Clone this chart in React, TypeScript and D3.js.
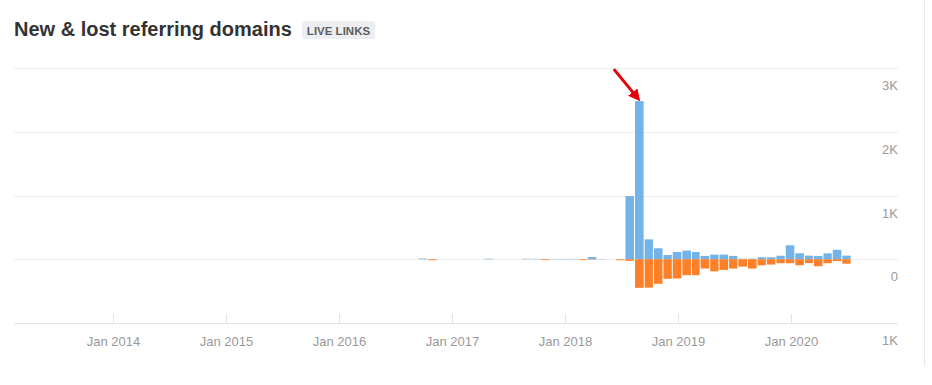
import React from 'react';
import * as d3 from 'd3';

// monthly data, Sep 2016 .. Jun 2020
const months = [
  '2016-09', '2016-10', '2016-11', '2016-12',
  '2017-01', '2017-02', '2017-03', '2017-04', '2017-05', '2017-06',
  '2017-07', '2017-08', '2017-09', '2017-10', '2017-11', '2017-12',
  '2018-01', '2018-02', '2018-03', '2018-04', '2018-05', '2018-06',
  '2018-07', '2018-08', '2018-09', '2018-10', '2018-11', '2018-12',
  '2019-01', '2019-02', '2019-03', '2019-04', '2019-05', '2019-06',
  '2019-07', '2019-08', '2019-09', '2019-10', '2019-11', '2019-12',
  '2020-01', '2020-02', '2020-03', '2020-04', '2020-05', '2020-06',
];
const newDomains = [
  12, 0, 0, 0,
  0, 0, 0, 10, 0, 0,
  0, 8, 8, 0, 6, 6,
  6, 0, 35, 5, 0, 0,
  990, 2480, 312, 172, 67, 114,
  136, 114, 52, 73, 73, 52,
  8, 8, 31, 31, 55, 219,
  94, 57, 52, 92, 148, 57,
];
const lostDomains = [
  0, 15, 0, 0,
  0, 0, 0, 0, 0, 0,
  0, 0, 0, 12, 0, 0,
  0, 12, 5, 0, 0, 15,
  25, 448, 445, 385, 307, 302,
  250, 250, 146, 190, 167, 146,
  115, 146, 94, 83, 62, 62,
  94, 60, 110, 62, 30, 70,
];
const yearTicks = [2014, 2015, 2016, 2017, 2018, 2019, 2020];
const valueTicks = [3000, 2000, 1000, 0, -1000];

const W = 932;
const H = 385;
const left = 14;
const right = 898;
const top = 68;
const bottom = 323;
const font = '"Liberation Sans", Arial, sans-serif';

export default function App() {
  const x = d3.scaleTime()
    .domain([new Date(2014, 0, 1), new Date(2020, 0, 1)])
    .range([113, 791]);
  const y = d3.scaleLinear().domain([-1000, 3000]).range([bottom, top]);

  const barStart = (m: string) => {
    const [yy, mm] = m.split('-').map(Number);
    return x(new Date(yy, mm - 1, 15));
  };
  const barEnd = (m: string) => {
    const [yy, mm] = m.split('-').map(Number);
    return x(new Date(yy, mm, 15));
  };

  const peakIdx = newDomains.indexOf(d3.max(newDomains) as number);
  const tipX = (barStart(months[peakIdx]) + barEnd(months[peakIdx])) / 2;
  const tipY = y(newDomains[peakIdx]);

  return (
    <svg width={W} height={H} style={{ position: 'absolute', left: 0, top: 0, background: '#fff' }}>
      <defs>
        <marker id="head" markerWidth="4" markerHeight="4" refX="2.2" refY="2" orient="auto" markerUnits="strokeWidth">
          <path d="M0,0 L4,2 L0,4 Z" fill="#e8000b" />
        </marker>
      </defs>

      {/* title */}
      <text x={14} y={36} fontFamily={font} fontSize={20} fontWeight="bold" fill="#333">
        New &amp; lost referring domains
      </text>
      <rect x={302} y={21} width={73} height={18} rx={2} fill="#eceef2" />
      <text x={338.5} y={34.5} textAnchor="middle" fontFamily={font} fontSize={11.5} fontWeight="bold" fill="#5e5e5e">
        LIVE LINKS
      </text>

      {/* card border */}
      <line x1={924.5} x2={924.5} y1={0} y2={366} stroke="#e8e8e8" />

      {/* grid */}
      {valueTicks.map(v => (
        <g key={v}>
          <line x1={left} x2={right} y1={Math.round(y(v)) + 0.5} y2={Math.round(y(v)) + 0.5}
            stroke={v === -1000 ? '#e3e3e3' : '#ececec'} />
          <text x={right} y={y(v) + 22} textAnchor="end" fontFamily={font} fontSize={13} fill="#999">
            {v === 0 ? '0' : `${Math.abs(v) / 1000}K`}
          </text>
        </g>
      ))}

      {/* x axis */}
      {yearTicks.map(yr => {
        const tx = Math.round(x(new Date(yr, 0, 1))) + 0.5;
        return (
          <g key={yr}>
            <line x1={tx} x2={tx} y1={bottom - 9} y2={bottom} stroke="#e3e3e3" />
            <text x={tx} y={bottom + 23} textAnchor="middle" fontFamily={font} fontSize={13} fill="#999">
              {`Jan ${yr}`}
            </text>
          </g>
        );
      })}

      {/* bars */}
      {months.map((m, i) => {
        const x0 = barStart(m);
        const w = barEnd(m) - x0 - 1;
        return (
          <g key={m}>
            {newDomains[i] > 0 && (
              <rect x={x0} width={w} y={y(newDomains[i])} height={y(0) - y(newDomains[i])} fill="#74b3e7" />
            )}
            {lostDomains[i] > 0 && (
              <rect x={x0} width={w} y={y(0)} height={y(-lostDomains[i]) - y(0)} fill="#fd7f28" />
            )}
          </g>
        );
      })}

      {/* annotation arrow */}
      <line x1={tipX - 26} y1={tipY - 32} x2={tipX - 3} y2={tipY - 4}
        stroke="#e8000b" strokeWidth={3} markerEnd="url(#head)" />
    </svg>
  );
}
